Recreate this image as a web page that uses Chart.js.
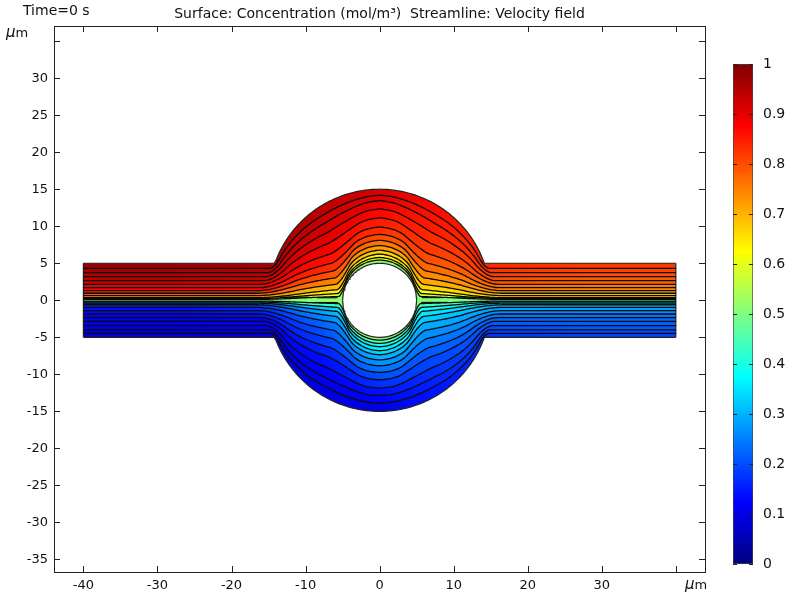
<!DOCTYPE html>
<html>
<head>
<meta charset="utf-8">
<script src="https://cdn.jsdelivr.net/npm/chart.js@4.4.0/dist/chart.umd.min.js"></script>
<style>
  html, body { margin: 0; padding: 0; background: #fff; }
  #wrap { position: relative; width: 787px; height: 595px; }
  #main { position: absolute; left: 0; top: 0; }
  #bar { position: absolute; left: 700px; top: 0; }
</style>
</head>
<body>
<div id="wrap">
  <canvas id="main" width="787" height="595"></canvas>
  <canvas id="bar" width="87" height="595"></canvas>
</div>
<script>
// ticks
const xTickValues = [-40, -30, -20, -10, 0, 10, 20, 30, 40];
const yTickValues = [-35, -30, -25, -20, -15, -10, -5, 0, 5, 10, 15, 20, 25, 30, 35];
const colorTickValues = [0, 0.1, 0.2, 0.3, 0.4, 0.5, 0.6, 0.7, 0.8, 0.9, 1];

// streamlines, upper half (inner -> outer): height in the channel and height at x = 0
const upperChannelY = [0.12, 0.22, 0.35, 0.62, 0.95, 1.30, 1.70, 2.16, 2.65, 3.19, 3.73, 4.32];
const upperCrestY   = [5.45, 5.8, 6.26, 6.8, 7.43, 8.15, 8.96, 9.95, 11.2, 12.4, 13.5, 14.2];
// streamlines, lower half (inner -> outer)
const lowerChannelY = [-0.1, -0.22, -0.38, -0.6, -0.95, -1.4, -1.85, -2.35, -2.84, -3.43, -4.0, -4.46];
const lowerCrestY   = [-5.4, -5.85, -6.3, -6.85, -7.4, -8.1, -8.9, -9.8, -10.8, -11.9, -12.9, -13.9];
// short streamline pieces near the stagnation points: [xStart, xEnd, y]
const stagnationPieces = [[-13.4, -9.4, 0.42], [-8.4, -5.7, 0.34], [5.7, 8.6, 0.36], [10.2, 14.8, 0.42],
                          [-8.8, -5.6, -0.3], [5.6, 9.2, -0.28]];

// concentration of each band between streamlines (inner -> wall), at inlet, centre and outlet
const upperBandLeft  = [0.62, 0.67, 0.73, 0.79, 0.84, 0.88, 0.90, 0.92, 0.94, 0.95, 0.96, 0.97];
const upperBandMid   = [0.59, 0.63, 0.67, 0.72, 0.76, 0.80, 0.83, 0.85, 0.87, 0.89, 0.90, 0.91];
const upperBandRight = [0.57, 0.62, 0.66, 0.69, 0.72, 0.74, 0.76, 0.78, 0.79, 0.80, 0.81, 0.82];
const centerBand     = [0.50, 0.52, 0.47];
const lowerBandLeft  = [0.38, 0.24, 0.19, 0.16, 0.14, 0.13, 0.12, 0.11, 0.10, 0.10, 0.09, 0.09];
const lowerBandMid   = [0.45, 0.40, 0.37, 0.34, 0.30, 0.27, 0.24, 0.20, 0.17, 0.14, 0.12, 0.10];
const lowerBandRight = [0.42, 0.37, 0.33, 0.30, 0.28, 0.26, 0.24, 0.23, 0.22, 0.21, 0.20, 0.19];

// geometry (um)
const HALF_W = 5, R_OUT = 15, R_IN = 5, X_END = 40;
const CORNER = Math.sqrt(R_OUT * R_OUT - HALF_W * HALF_W);

function jet(c) {
  const f = v => Math.round(255 * Math.max(0, Math.min(1, v)));
  return `rgb(${f(1.5 - Math.abs(4 * c - 3))},${f(1.5 - Math.abs(4 * c - 2))},${f(1.5 - Math.abs(4 * c - 1))})`;
}

function wallY(x) {
  return Math.abs(x) < CORNER ? Math.sqrt(R_OUT * R_OUT - x * x) : HALF_W;
}
function holeY(x) {
  return Math.abs(x) < R_IN ? Math.sqrt(R_IN * R_IN - x * x) : 0;
}
function smooth(fn, x, w) {
  let s = 0;
  for (let k = 0; k <= 16; k++) s += fn(x - w + 2 * w * k / 16);
  return s / 17;
}
function streamY(x, yc, yk) {
  const fc = yc / HALF_W;
  const f0 = (yk - R_IN) / (R_OUT - R_IN);
  const t = Math.max(0, 1 - Math.abs(x) / 15);
  const f = fc + (f0 - fc) * t;
  const yt = smooth(wallY, x, 0.3 + 2.6 * (1 - f));
  const yb = smooth(holeY, x, 0.4 + 2.6 * f);
  return yb + f * (yt - yb);
}

// x stations for the curves
const xs = [-40, -36, -32, -28, -25, -22, -20, -18];
for (let x = -17.5; x <= 17.51; x += 0.25) xs.push(Math.round(x * 100) / 100);
xs.push(18, 20, 22, 25, 28, 32, 36, 40, -CORNER, CORNER);
xs.sort((a, b) => a - b);

function bandFill(l, m, r) {
  return (context) => {
    const chart = context.chart;
    const sx = chart.scales && chart.scales.x;
    if (!chart.chartArea || !sx) return jet(m);
    const x0 = sx.getPixelForValue(-X_END), x1 = sx.getPixelForValue(X_END);
    const g = chart.ctx.createLinearGradient(x0, 0, x1, 0);
    const stops = [[-40, l], [-28, l], [-16, 0.85 * l + 0.15 * m], [-8, 0.5 * l + 0.5 * m], [0, m],
                   [8, 0.5 * r + 0.5 * m], [16, 0.85 * r + 0.15 * m], [28, r], [40, r]];
    stops.forEach(([x, c]) => g.addColorStop((x + X_END) / (2 * X_END), jet(c)));
    return g;
  };
}

const lineBase = { pointRadius: 0, borderColor: '#0a0a0a', borderWidth: 1.3, cubicInterpolationMode: 'monotone' };
const edgeBase = { pointRadius: 0, borderColor: '#222', borderWidth: 1.2, cubicInterpolationMode: 'default', tension: 0, fill: false };
const datasets = [];

// hole (white, drawn on top)
const holeXs = [];
for (let x = -5; x <= 5.001; x += 0.1) holeXs.push(Math.round(x * 100) / 100);
datasets.push({ ...edgeBase, data: holeXs.map(x => ({ x, y: holeY(x) })), fill: 1, backgroundColor: '#fff' });
datasets.push({ ...edgeBase, data: holeXs.map(x => ({ x, y: -holeY(x) })) });

// top wall
datasets.push({ ...edgeBase, data: xs.map(x => ({ x, y: wallY(x) })) });
// upper streamlines, outer -> inner
for (let i = upperChannelY.length - 1; i >= 0; i--) {
  datasets.push({ ...lineBase,
    data: xs.map(x => ({ x, y: streamY(x, upperChannelY[i], upperCrestY[i]) })),
    fill: datasets.length - 1,
    backgroundColor: bandFill(upperBandLeft[i], upperBandMid[i], upperBandRight[i]) });
}
// lower streamlines, inner -> outer
for (let i = 0; i < lowerChannelY.length; i++) {
  const band = i === 0 ? centerBand : [lowerBandLeft[i - 1], lowerBandMid[i - 1], lowerBandRight[i - 1]];
  datasets.push({ ...lineBase,
    data: xs.map(x => ({ x, y: -streamY(x, -lowerChannelY[i], -lowerCrestY[i]) })),
    fill: datasets.length - 1,
    backgroundColor: bandFill(band[0], band[1], band[2]) });
}
// bottom wall
const nL = lowerChannelY.length - 1;
datasets.push({ ...edgeBase, data: xs.map(x => ({ x, y: -wallY(x) })), fill: datasets.length - 1,
  backgroundColor: bandFill(lowerBandLeft[nL], lowerBandMid[nL], lowerBandRight[nL]) });
// inlet / outlet edges
datasets.push({ ...edgeBase, data: [{ x: -X_END, y: -HALF_W }, { x: -X_END, y: HALF_W }] });
datasets.push({ ...edgeBase, data: [{ x: X_END, y: -HALF_W }, { x: X_END, y: HALF_W }] });
// short pieces
stagnationPieces.forEach(([a, b, y]) => {
  datasets.push({ ...lineBase, borderWidth: 1.1, fill: false, data: [{ x: a, y }, { x: b, y }] });
});

Chart.defaults.font.family = "'DejaVu Sans', sans-serif";
Chart.defaults.color = '#111';

const frameAndText = {
  id: 'frameAndText',
  afterDraw(chart) {
    const { ctx, chartArea: a, scales } = chart;
    ctx.save();
    ctx.strokeStyle = '#222';
    ctx.lineWidth = 1;
    ctx.strokeRect(a.left + 0.5, a.top + 0.5, a.right - a.left, a.bottom - a.top);
    ctx.beginPath();
    scales.x.ticks.forEach(t => {
      const p = Math.round(scales.x.getPixelForValue(t.value)) + 0.5;
      ctx.moveTo(p, a.bottom); ctx.lineTo(p, a.bottom - 6);
      ctx.moveTo(p, a.top); ctx.lineTo(p, a.top + 6);
    });
    scales.y.ticks.forEach(t => {
      const p = Math.round(scales.y.getPixelForValue(t.value)) + 0.5;
      ctx.moveTo(a.left, p); ctx.lineTo(a.left + 6, p);
      ctx.moveTo(a.right, p); ctx.lineTo(a.right - 6, p);
    });
    ctx.stroke();

    ctx.fillStyle = '#111';
    ctx.font = "14px 'DejaVu Sans'";
    ctx.textBaseline = 'alphabetic';
    ctx.textAlign = 'left';
    ctx.fillText('Time=0 s', 23, 15);
    ctx.textAlign = 'center';
    ctx.fillText('Surface: Concentration (mol/m\u00b3)  Streamline: Velocity field', (a.left + a.right) / 2, 18);
    const unit = (x, y) => {
      ctx.textAlign = 'left';
      ctx.font = "italic 15px 'DejaVu Sans'";
      ctx.fillText('\u03bc', x, y);
      const w = ctx.measureText('\u03bc').width;
      ctx.font = "13px 'DejaVu Sans'";
      ctx.fillText('m', x + w, y);
    };
    unit(6, 37);
    unit(685, 589);
    ctx.restore();
  }
};

new Chart(document.getElementById('main'), {
  type: 'line',
  data: { datasets },
  options: {
    responsive: false,
    animation: false,
    layout: { padding: { left: 0, top: 26, right: 82, bottom: 0 } },
    plugins: {
      legend: { display: false },
      tooltip: { enabled: false },
      filler: { drawTime: 'beforeDatasetsDraw', propagate: false }
    },
    scales: {
      x: {
        type: 'linear', min: -43.97, max: 43.94,
        afterBuildTicks: s => { s.ticks = xTickValues.map(v => ({ value: v })); },
        afterFit: s => { s.height = 23; },
        grid: { display: false, drawTicks: false },
        border: { display: false },
        ticks: { padding: 6, font: { size: 13 }, maxRotation: 0, autoSkip: false,
          callback: v => (v === 40 ? '' : String(v)) }
      },
      y: {
        type: 'linear', min: -36.69, max: 37.04,
        afterBuildTicks: s => { s.ticks = yTickValues.map(v => ({ value: v })); },
        afterFit: s => { s.width = 54; },
        grid: { display: false, drawTicks: false },
        border: { display: false },
        ticks: { padding: 6, font: { size: 13 }, autoSkip: false,
          callback: v => (v === 35 ? '' : String(v)) }
      }
    }
  },
  plugins: [frameAndText]
});

// colour bar
const barTicks = {
  id: 'barTicks',
  afterDraw(chart) {
    const { ctx, chartArea: a, scales } = chart;
    ctx.save();
    ctx.strokeStyle = '#222';
    ctx.lineWidth = 1;
    ctx.beginPath();
    colorTickValues.forEach(v => {
      const p = Math.round(scales.y.getPixelForValue(v)) + 0.5;
      ctx.moveTo(a.left, p); ctx.lineTo(a.left + 4, p);
      ctx.moveTo(a.right, p); ctx.lineTo(a.right - 4, p);
    });
    ctx.stroke();
    ctx.restore();
  }
};

new Chart(document.getElementById('bar'), {
  type: 'bar',
  data: {
    labels: [''],
    datasets: [{
      data: [[0, 1]],
      backgroundColor: (context) => {
        const chart = context.chart;
        if (!chart.chartArea) return jet(0.5);
        const sy = chart.scales.y;
        const g = chart.ctx.createLinearGradient(0, sy.getPixelForValue(0), 0, sy.getPixelForValue(1));
        [0, 0.125, 0.375, 0.625, 0.875, 1].forEach(c => g.addColorStop(c, jet(c)));
        return g;
      },
      borderColor: '#444', borderWidth: 1, borderSkipped: false,
      barPercentage: 1, categoryPercentage: 1
    }]
  },
  options: {
    responsive: false,
    animation: false,
    layout: { padding: { left: 33, top: 64, right: 0, bottom: 31 } },
    plugins: { legend: { display: false }, tooltip: { enabled: false } },
    scales: {
      x: { display: false },
      y: {
        position: 'right', min: 0, max: 1,
        afterBuildTicks: s => { s.ticks = colorTickValues.map(v => ({ value: v })); },
        afterFit: s => { s.width = 34; },
        grid: { display: false, drawTicks: false },
        border: { display: false },
        ticks: { padding: 10, font: { size: 14 }, callback: v => String(Math.round(v * 10) / 10) }
      }
    }
  },
  plugins: [barTicks]
});
</script>
</body>
</html>
